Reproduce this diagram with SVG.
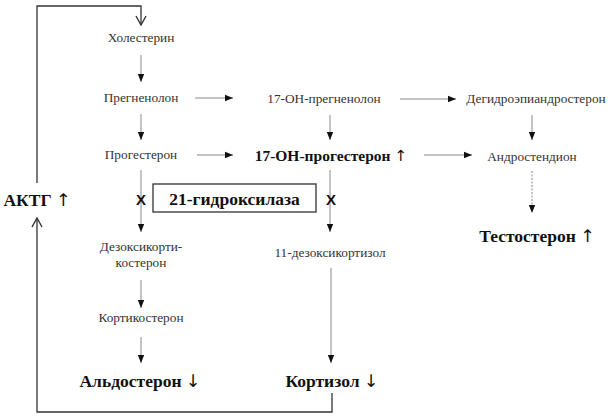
<svg xmlns="http://www.w3.org/2000/svg" width="616" height="420" viewBox="0 0 616 420">
<defs>
<style>
.t{font-family:'Liberation Serif','Times New Roman',serif;font-size:13.3px;fill:#333;text-anchor:middle}
.b{font-family:'Liberation Serif','Times New Roman',serif;font-size:17.5px;font-weight:bold;fill:#111;text-anchor:middle}
.ar{font-family:'DejaVu Sans',sans-serif;font-weight:normal;fill:#111}
.a{stroke:#888;stroke-width:1;fill:none;marker-end:url(#ah)}
.d{stroke:#888;stroke-width:1;fill:none;stroke-dasharray:2 1.5;marker-end:url(#ah)}
.f{stroke:#333;stroke-width:1.3;fill:none}
.x{font-family:'Liberation Sans',Arial,sans-serif;font-size:15px;font-weight:bold;fill:#111;text-anchor:middle}
</style>
<marker id="ah" markerWidth="8" markerHeight="8" viewBox="0 0 8 8" refX="8" refY="4" orient="auto" markerUnits="userSpaceOnUse">
<path d="M0,0.8 L8,4 L0,7.2 Z" fill="#111"/>
</marker>
<marker id="oa" markerWidth="12" markerHeight="12" viewBox="0 0 12 12" refX="11" refY="6" orient="auto" markerUnits="userSpaceOnUse">
<path d="M2,1 L11,6 L2,11" fill="none" stroke="#333" stroke-width="1.4"/>
</marker>
</defs>
<g id="connectors">
<path class="f" d="M37,183 V6 H141 V25" marker-end="url(#oa)"/>
<path class="f" d="M332,393 V412 H37 V218" marker-end="url(#oa)"/>
<line class="a" x1="141" y1="55" x2="141" y2="82"/>
<line class="a" x1="141" y1="114" x2="141" y2="140"/>
<line class="a" x1="195" y1="98" x2="233" y2="98"/>
<line class="a" x1="400" y1="99" x2="456" y2="99"/>
<line class="a" x1="330" y1="115" x2="330" y2="140"/>
<line class="a" x1="532" y1="115" x2="532" y2="140"/>
<line class="a" x1="197" y1="155" x2="233" y2="155"/>
<line class="a" x1="424" y1="155" x2="472" y2="155"/>
<line class="d" x1="532" y1="171" x2="532" y2="213"/>
<line class="a" x1="141" y1="170" x2="141" y2="232"/>
<line class="a" x1="330" y1="170" x2="330" y2="232"/>
<line class="a" x1="141" y1="280" x2="141" y2="308"/>
<line class="a" x1="141" y1="337" x2="141" y2="363"/>
<line class="a" x1="331" y1="268" x2="331" y2="363"/>
</g>
<g id="n-chol"><text class="t" x="141" y="42">Холестерин</text></g>
<g id="n-preg"><text class="t" x="141" y="102">Прегненолон</text></g>
<g id="n-17preg"><text class="t" x="324" y="103">17-ОН-прегненолон</text></g>
<g id="n-dhea"><text class="t" x="536" y="103">Дегидроэпиандростерон</text></g>
<g id="n-prog"><text class="t" x="141" y="159">Прогестерон</text></g>
<g id="n-17prog"><text class="b" x="331" y="161" style="font-size:15.5px">17-ОН-прогестерон <tspan class="ar">↑</tspan></text></g>
<g id="n-andro"><text class="t" x="532" y="161">Андростендион</text></g>
<g id="n-testo"><text class="b" x="537" y="242">Тестостерон <tspan class="ar">↑</tspan></text></g>
<g id="n-enzyme">
<rect x="153" y="184" width="163" height="28" fill="#fff" stroke="#333" stroke-width="1.3"/>
<text class="b" x="234.5" y="204.5">21-гидроксилаза</text>
</g>
<g id="n-x1"><text class="x" x="141" y="205">X</text></g>
<g id="n-x2"><text class="x" x="331" y="205">X</text></g>
<g id="n-doc"><text class="t" x="141" y="251">Дезоксикорти-</text><text class="t" x="141" y="267">костерон</text></g>
<g id="n-11doc"><text class="t" x="330" y="257">11-дезоксикортизол</text></g>
<g id="n-cort"><text class="t" x="141" y="322">Кортикостерон</text></g>
<g id="n-aldo"><text class="b" x="140" y="387">Альдостерон <tspan class="ar">↓</tspan></text></g>
<g id="n-cortisol"><text class="b" x="332" y="387">Кортизол <tspan class="ar">↓</tspan></text></g>
<g id="n-acth"><text class="b" x="37" y="206">АКТГ <tspan class="ar">↑</tspan></text></g>
</svg>
